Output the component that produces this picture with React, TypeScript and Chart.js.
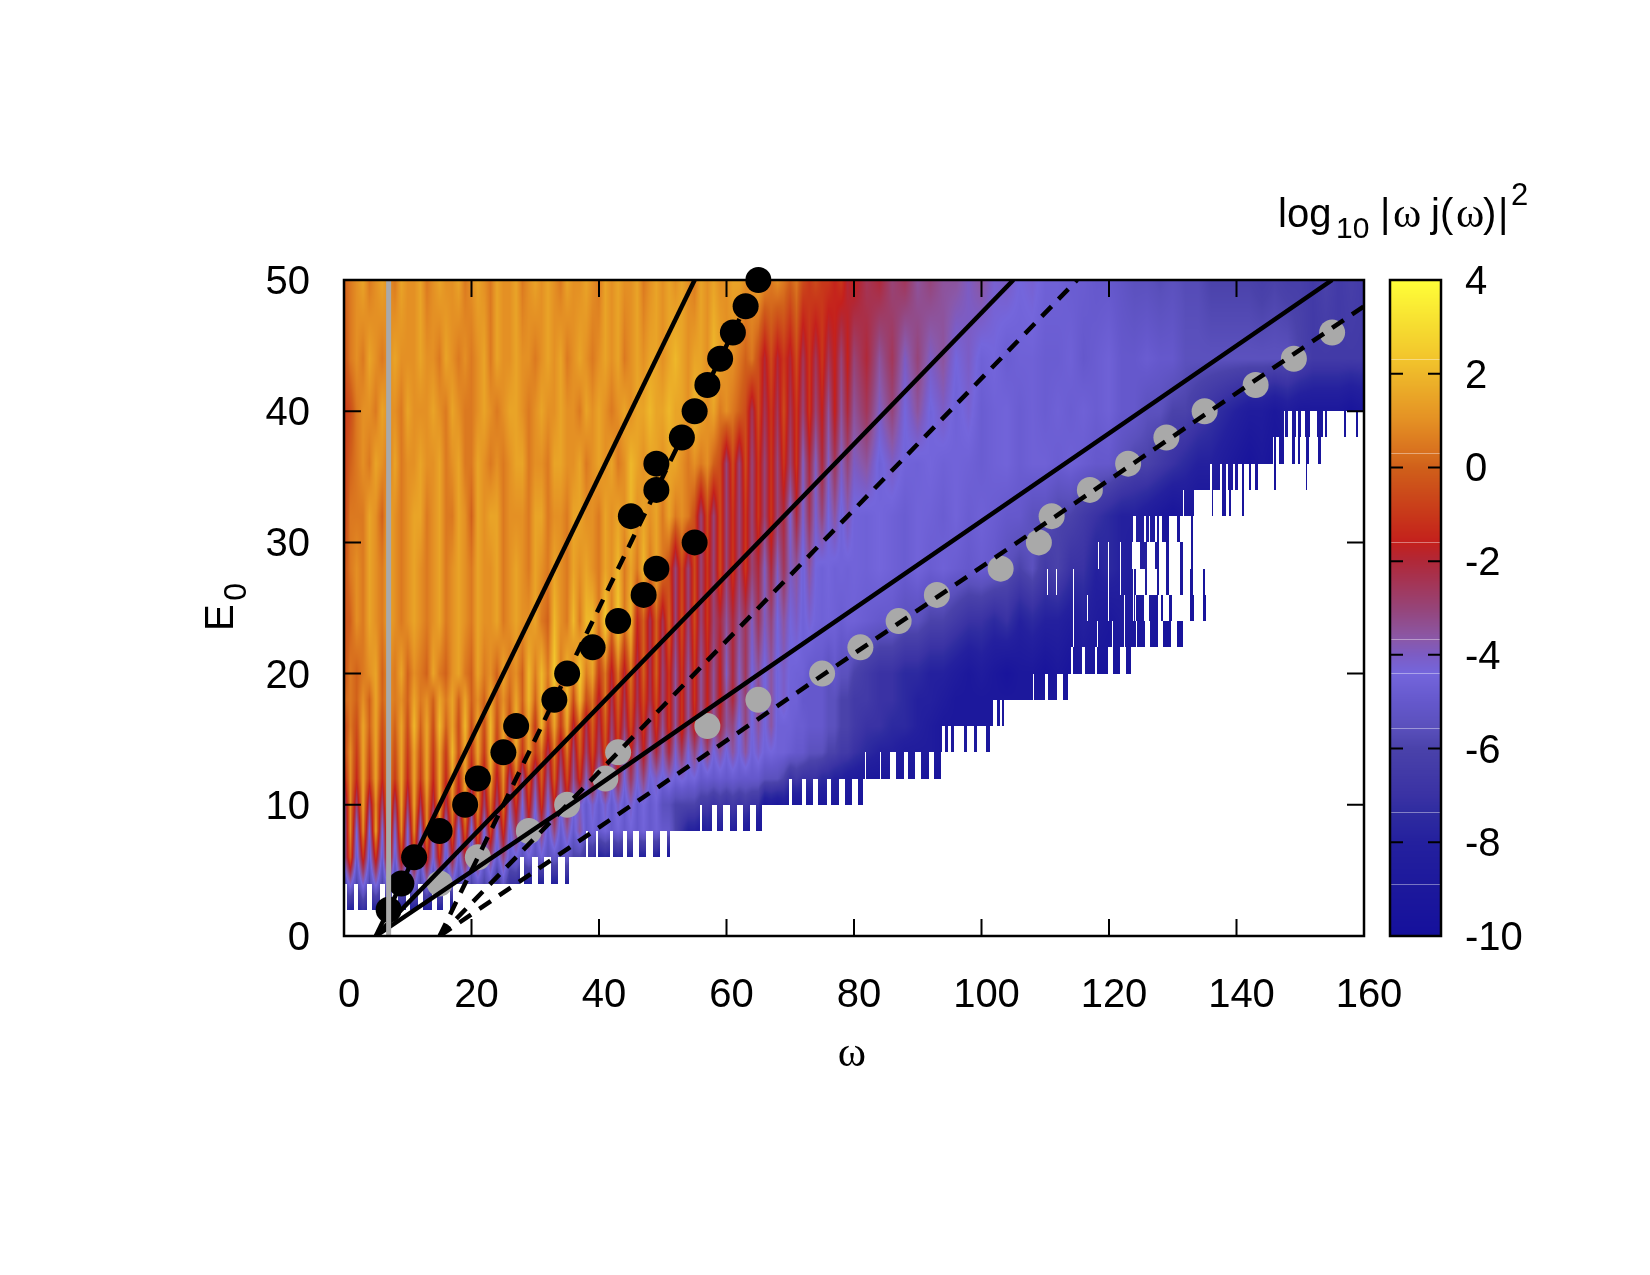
import React, { useEffect, useRef } from 'react';
import { Chart, registerables } from 'chart.js';

Chart.register(...registerables);

const SANS = '"Liberation Sans", Arial, sans-serif';
const SERIF = '"Liberation Serif", serif';

// E0, omega of the harmonic cutoff markers
const blackOmega = [7, 9, 11, 15, 19, 21, 25, 27, 33, 35, 39, 43, 47, 49, 55, 45, 49, 49, 53, 55, 57, 59, 61, 63, 65];
const blackE0 = [2, 4, 6, 8, 10, 12, 14, 16, 18, 20, 22, 24, 26, 28, 30, 32, 34, 36, 38, 40, 42, 44, 46, 48, 50];
const grayOmega = [15, 21, 29, 35, 41, 43, 57, 65, 75, 81, 87, 93, 103, 109, 111, 117, 123, 129, 135, 143, 149, 155];
const grayE0 = [4, 6, 8, 10, 12, 14, 16, 18, 20, 22, 24, 26, 28, 30, 32, 34, 36, 38, 40, 42, 44, 46];

const solid1 = { w: [5, 55], e: [0, 50] };
const solid2 = { w: [5, 105], e: [0, 50] };
const solid3 = { w: [5, 35, 63.7, 155], e: [0, 9.85, 19.5, 50] };
const dashed1 = { w: [15, 65], e: [0, 50] };
const dashed2 = { w: [15, 115], e: [0, 50] };
const dashed3 = { w: [15, 160], e: [0, 48] };
const grayLine = { w: [7, 7], e: [0, 50] };

// heat map values, log10 scale: one row per E0, omega = 0,1,..,80 then 82,84,..,160. Rows stop where the data stops.
const row02 = [-7, -8, -8, -7, -8, -8, -8, -7, -8, -8, -8, -8, -8, -8, -8, -8, -8, -9, -9];
const row04 = [-6, -4, -6, -4, -6, -4, -6, -4, -6, -4, -6, -4, -6, -4, -6, -4, -6, -4.5, -6, -4.5, -6, -5, -6, -5, -7, -5, -7, -7, -8, -8, -8, -8, -8, -8, -8, -8, -9];
const row06 = [-4, 0, -5, -1, -5, -1, -5, 0, -5, -1,
  -4.5, -1, -5, -1, -4.5, -1, -5, -2, -5, -2,
  -5, -2, -5, -3, -5, -3, -5, -4.5, -5.5, -4.5,
  -5.5, -4.5, -5.5, -5, -5.5, -5, -6, -6, -7, -7,
  -8, -7.5, -8, -7.5, -8, -8, -8, -8, -8, -8,
  -9, -9, -9];
const row08 = [-4.5, 1, -4.5, 1, -4.4, 1.5, -4.5, 1, -4.4, 1,
  -4.5, 1, -4.4, 1, -4.5, .5, -4.6, 0, -4.6, 0,
  -4.6, 0, -4.6, -.5, -4.6, -1, -4.8, -2.5, -4.8, -2.5,
  -5, -3, -5, -3, -5, -3.5, -5, -3.5, -5, -4.5,
  -5, -4.5, -5, -4.5, -5, -4.5, -5, -4.5, -5, -4.6,
  -5, -5, -6, -7, -8, -8, -8.5, -8, -8.5, -8,
  -8.5, -8, -8.5, -8.5, -9, -9, -9];
const row10 = [-4, 1, -3, 1.5, -3, 1, -3, 1.5, -3, 1.5,
  -3, 1.5, -2.5, 1, -2.5, 1.5, -2.5, 1, -2.5, 1.5,
  -3, 1, -3, .5, -3, .5, -4, -1, -4.4, -1,
  -4.4, -1, -4.4, -1.5, -4.4, -2, -4.4, -4, -5, -4,
  -5, -4, -5, -4, -5, -4, -5, -4.4, -5, -4.5,
  -5.5, -5.5, -6, -6, -6, -6, -6.5, -6.5, -7, -6.5,
  -7, -6.5, -7, -6.5, -7, -7, -9, -8.5, -9, -8.5,
  -9, -9, -9, -9, -9, -9, -9, -9, -9, -9, -9,
  -9.5];
const row12 = [-2, 1, -1.5, 1.5, -1, 1.5, -1.5, 1, -1, 1.5,
  -1.5, 1.5, -1, 1.5, -1.5, 1.5, -1.5, 1.5, -1.5, 1.5,
  -2, 1, -2, 1.5, -2, 1, -3, .5, -3.5, 0,
  -3.5, 0, -3.5, 0, -3.5, -.5, -3.5, -1, -4, -1.5,
  -4.4, -1.5, -4.4, -2, -4.4, -2.5, -4.4, -3, -4.6, -4,
  -4.6, -4, -4.6, -4.2, -4.6, -4.4, -5, -4.8, -5, -4.8,
  -5, -4.8, -5, -5, -5, -5, -5.5, -5.5, -5.5, -6,
  -7, -6.5, -7, -7, -7, -7.5, -7.5, -8, -8, -8.5, -8.5,
  -9, -9, -9, -9, -9, -9.5, -9.5];
const row14 = [-1, 1, -1, 1.5, -.5, 1.5, -1, 1, -.5, 1.5,
  -1, 1.5, -.5, 1.5, -1, 1.5, -1, 2, -.5, 1.5,
  -1, 1.5, -1, 2, -1, 1.5, -1, 1.5, -1, 1.5,
  -1, .5, -2.5, .5, -2.5, .5, -3, 0, -3, -.5,
  -3, -.5, -3.5, -1, -4, -1.5, -4, -1.5, -4, -2,
  -4, -2, -4.2, -2.5, -4.4, -3, -4.5, -3, -4.5, -3.5,
  -4.5, -3.5, -4.5, -3.5, -4.6, -4, -4.6, -4.4, -4.6, -4.6,
  -4.8, -5, -5, -5.5, -5.5, -5.5, -6, -6, -6.5, -6.5, -7,
  -7.5, -8, -8, -8.5, -8.5, -8.5, -9, -9, -9, -9, -9.5];
const row16 = [-1, .5, -.5, 1.5, 0, 1.5, -.5, 1, 0, 1.5,
  -.5, 2, 0, 1.5, -.5, 2, 0, 1.5, -.5, 2,
  -.5, 1.5, -.5, 2, -.5, 1.5, -.5, 2, -.5, 1.5,
  -1, 2, -1, 1.5, -1, 1.5, -2, .5, -2.5, 0,
  -2.5, 0, -3, -.5, -3, -.5, -3, -1, -3.5, -1,
  -3.5, -1, -3.5, -1, -3.5, -1.5, -3.5, -1.5, -3.5, -2,
  -3.5, -3, -4.5, -3, -4.5, -3.5, -4.5, -3.5, -4.6, -4.6,
  -4.6, -4.8, -4.8, -5, -5, -5, -5.5, -5.5, -6, -6, -6.5,
  -7, -7, -7.5, -7.5, -8, -8.5, -9, -9, -9, -9, -9, -9];
const row18 = [0, .5, 0, 1, 0, 1.5, 0, 1, .5, 1,
  0, 1.5, .5, 1, 0, 1.5, .5, 1.5, 0, 1.5,
  0, 1, 0, 1.5, 0, 1, 0, 1.5, 0, 2,
  0, 2, 0, 2, -.5, 2, -.5, 2, -.5, .5,
  -2, .5, -2.5, 0, -2.5, 0, -2.5, -.5, -2.5, -.5,
  -3, -1, -3.5, -1, -3.5, -1, -3.5, -1.5, -3.5, -1.5,
  -3.5, -2, -4, -3, -4.5, -3, -4.5, -3.5, -4.5, -4,
  -4.6, -4.6, -5, -5, -5, -5, -5.5, -5.5, -6, -6, -6.5,
  -6.5, -7, -7, -7.5, -8, -8, -8.5, -9, -9, -9, -9, -9, -9, -9, -9, -9, -9.5];
const row20 = [-.5, .5, 0, .5, 1, 1.5, 0, 1, .5, 1.5,
  0, 1, .5, 0, 1.5, .5, 0, 1, 1.5, .5,
  0, 1.5, .5, 1, 0, 1.5, .5, 1, 0, 2,
  .5, 2, .5, 2.5, .5, 2, .5, 2.5, .5, 1.5,
  -1, .5, -2, .5, -2, .5, -2.5, 0, -2.5, 0,
  -3, -1, -3.5, -1, -3.5, -1, -3.5, -1.5, -3.5, -1.5,
  -4, -2, -4, -2.5, -4.4, -3.5, -4.5, -3.5, -4.5, -4,
  -4.5, -4.6, -4.6, -5, -5, -5, -5.5, -5, -5.5, -5.5, -6,
  -6.5, -7, -7, -7.5, -7.5, -8, -8, -8.5, -9, -8.5, -9, -9.5, -9, -9, -9.5, -9, -9.5, -9, -9.5, -9.5, -9.5, -9.5];
const row24 = [-.5, 0, 1, .5, 1.5, 1, .5, 1.5, 1, .5,
  1, 1.5, 1, .5, 1, 1.5, .5, 1, 1.5, 1,
  .5, 1.5, 1, 1, 1.5, .5, 1, 1.5, 1, 1,
  1.5, .5, 0, 2, 1, .5, 2, .5, 2, 2,
  .5, 2.5, .5, 2.5, .5, 2, -1.5, 0, -2.5, 0,
  -2.5, 0, -3, -.5, -3, -.5, -3, -1, -3, -2,
  -3.5, -2, -3.5, -2.5, -4, -2.5, -4, -3, -4.4, -3.5,
  -4.4, -4, -4.6, -4.2, -4.5, -4.6, -4.5, -4.6, -4.8, -4.6, -4.6,
  -4.8, -5, -5, -5.5, -5.5, -6, -6, -6.5, -7, -7, -7.5, -7, -8, -7.5, -8, -8, -8.5, -8, -8.5, -9, -8.5, -9, -9, -9.5, -9.5, -9.5, -9.5, -9.5];
const row28 = [-.5, .5, 1, .5, 1.5, 1, .5, 1.5, 1, .5,
  1, 1.5, 1, .5, 1, 1.5, .5, 1, 1.5, 1,
  .5, 1.5, 1, 1, 1.5, .5, 1, 1.5, 1, .5,
  1.5, 1, .5, 1.5, 1, .5, 1.5, 1, 1.5, 1,
  .5, 1.5, 1, 2, .5, 1.5, .5, 2, .5, 1.5,
  .5, -.5, -3, -.5, -3, -.5, -3, -1, -3, -.5,
  -3, -1, -3, -1, -3, -2, -4, -2, -4, -2.5,
  -4, -3.5, -4.6, -3.5, -4.4, -4.6, -4.4, -4.6, -4.5, -4.6, -4.5,
  -4.6, -4.4, -4.6, -4.8, -4.5, -4.8, -4.6, -4.8, -5, -4.8, -5, -5.5, -6, -5.5, -6.5, -6, -7, -7, -8, -7.5, -8, -8.5, -8, -9, -9, -9, -9.5, -9.5];
const row32 = [-1, .5, .5, .5, 1.5, 1, 0, 1.5, 1, .5,
  1, 1.5, 1.5, .5, 1, 1.5, .5, .5, 1.5, 1,
  0, 1.5, 1, 1.5, 1.5, .5, 1, 1, 1, .5,
  1.5, 1.5, .5, 1, 1, .5, 1.5, 1.5, 1, 1,
  .5, 1.5, 1, 1.5, 1, 2, 1, 1.5, 1, 1.5,
  .5, 1.5, .5, 1, .5, -.5, -3, -.5, -3, -.5,
  -3, -1, -3, -1, -3, -1, -3, -1, -3, -2,
  -4.2, -2, -4.2, -2.5, -4.2, -3, -4.4, -3.5, -4.6, -3.8, -4.5,
  -4.6, -4.4, -4.6, -4.8, -4.5, -4.6, -4.8, -4.5, -4.8, -4.6, -4.8, -5, -5, -5.5, -5.5, -6, -6, -6.5, -7, -7.5, -8, -8, -8.5, -9, -9.5, -9, -9.5, -9.5, -9.5, -9.5, -9.5];
const row36 = [-1, 0, .5, 1, .5, 1.5, 1, .5, 1.5, .5,
  1, 1, 1.5, 1, 1, 1.5, .5, 1, 1.5, .5,
  .5, 1.5, 1, .5, 1, .5, 1, 1.5, 1.5, .5,
  1, 1, .5, 1.5, 1.5, 1, 1, 1.5, .5, 1,
  1.5, 1, 1.5, .5, 1, 2, 1.5, 1, 1.5, 1.5,
  1, 1.5, 1.5, 1, .5, 1, .5, 1, 0, -.5,
  -3, -.5, -3, -.5, -3, -1, -3, -1, -3, -1,
  -3, -1, -4, -2, -4, -2, -4, -2.5, -4, -3, -4,
  -3.5, -4.6, -4, -4.5, -4.6, -4.4, -4.6, -4.5, -4.6, -4.8, -4.6, -4.5, -4.8, -4.6, -4.6, -4.8, -4.6, -4.8, -5, -5, -5.5, -6, -6, -6.5, -7, -7.5, -8, -8, -8.5, -9, -9.5, -9, -9.5, -9.5, -9.5, -9.5, -9.5];
const row40 = [-1, -.5, .5, 1, 1, .5, 1.5, 1, 1, .5,
  1.5, 1, 1, 1, 1.5, 1, .5, 1.5, 1, .5,
  .5, 1, 1.5, 1, .5, 1, 1.5, 1.5, 1, .5,
  1, 1.5, 1, 1, 1.5, 1, 1, .5, 1.5, 1,
  1.5, 1, .5, 1, 1.5, 1, 1.5, 1.5, 2, 1.5,
  1.5, 2, 1.5, 1.5, 1, 2, 1.5, 1, 1.5, .5,
  1, .5, 0, -.5, -2.5, -.5, -2.5, -1, -2.5, -.5,
  -2.5, -1, -3, -1, -3, -1.5, -3.5, -1.5, -3.5, -2, -3.5,
  -2.5, -4, -3, -4.4, -3.5, -4.5, -4, -4.6, -4.2, -4.8, -4.6, -4.5, -4.8, -4.6, -4.8, -4.6, -4.8, -4.6, -4.8, -4.6, -5, -5, -5.5, -5.5, -6, -6, -6.5, -7, -7.5, -8, -8.5, -8.5, -9, -8.5, -9, -9, -9, -9, -9.5, -9];
const row44 = [-.5, .5, 1, .5, 1.5, 1, .5, 1, 1.5, 1,
  1, 1, 1.5, 1, 1, .5, 1.5, 1, .5, 1,
  .5, 1, 1.5, .5, 1.5, 1, 1, 1.5, 1, 1,
  .5, 1, 1.5, 1, 1.5, .5, 1, 1.5, 1, .5,
  1, 1.5, 1, 1.5, .5, 1, 1.5, 1, 1.5, 1.5,
  1, 1.5, 2, 1.5, 1, 1.5, 1.5, 1, 2, 1.5,
  1, 1, .5, 0, .5, -.5, -2, -.5, -2, -1,
  -2, -.5, -2.5, -1, -2.5, -1, -2.5, -1.5, -3, -1.5, -3,
  -2, -3.5, -2.5, -4, -3, -4, -3.5, -4.4, -4, -4.6, -4.4, -4.8, -4.6, -4.6, -4.8, -4.8, -4.6, -5, -4.8, -4.6, -5, -5, -4.8, -5, -5, -5.5, -5.5, -5.5, -5.5, -5.5, -5.5, -5.5, -5.5, -5.5, -6, -6.5, -6.5, -6.5, -6.5, -6.5];
const row50 = [0, .5, 1, 1.5, .5, 1, 1.5, 1, .5, 1.5,
  1, 1, 1.5, .5, 1, 1.5, 1, 1, 1.5, .5,
  1, 1.5, 1, .5, 1.5, 1, 1, 1.5, .5, 1,
  1.5, 1, 1.5, 1, .5, 1.5, 1, 1, 1.5, 1,
  .5, 1.5, 1, 1.5, 1, 1, 1.5, .5, 1, 1.5,
  1, 1.5, 1, 1.5, 1, .5, 1.5, 1, 1.5, 1,
  1, 1.5, 1.5, 1, 1, 1.5, 1, .5, 1, .5,
  0, .5, -.5, -1, -.5, -1, -1, -1.5, -1, -2, -1.5,
  -2.5, -2, -3, -2.5, -3.5, -3, -3.5, -3.5, -4, -3.5, -4.2, -4, -4.4, -4.2, -4.6, -4.6, -4.8, -4.8, -5, -5, -5.2, -5.5, -5.5, -5.7, -5.5, -5.7, -5.7, -6, -6, -6, -6, -6.2, -6, -6.2, -6.2, -6.5, -6, -6.5, -6.2, -6.5];

const heatE0 = [2, 4, 6, 8, 10, 12, 14, 16, 18, 20, 24, 28, 32, 36, 40, 44, 50];
const heatRows = [row02, row04, row06, row08, row10, row12, row14, row16, row18, row20, row24, row28, row32, row36, row40, row44, row50];

// where each 2-unit band of E0 (named by its lower edge) stops being solid, and the teeth past that
const bandLow = [2, 4, 6, 8, 10, 12, 14, 16, 18, 20, 22, 24, 26, 28, 30, 32, 34, 36, 38];
const bandSolidEnd = [0, 26, 38, 55.9, 69.8, 81.7, 93.8, 101.8, 108, 114.1, 124.3, 124.1, 123.8, 123.7, 123.7, 133.4, 135.8, 145.8, 147.5];
const bandTeeth = [
  [[.5, 1.5], [2.2, 3.6], [4.4, 5.6], [6.4, 7.6], [8.5, 9.7], [10.4, 11.6], [12.4, 13.8], [14.6, 15.5], [16.6, 17.1]],
  [[26.1, 27.6], [28.2, 29.5], [30.4, 31.4], [32.5, 33.5], [34.6, 35.3]],
  [[38.2, 39.5], [39.8, 41.8], [42.2, 43.7], [44.4, 45.4], [46.3, 47.3], [48.4, 49.6], [50.7, 51.2]],
  [[56.1, 57.8], [58.5, 59.5], [60.5, 61.7], [62.6, 63.7], [64.6, 65.6]],
  [[70.2, 71.8], [72.5, 73.6], [74.4, 75.7], [76.4, 77.7], [78.6, 79.7], [80.7, 81.4]],
  [[81.9, 84.1], [84.3, 85.7], [86.6, 87.8], [88.5, 89.6], [90.5, 91.7], [92.6, 93.6]],
  [[94.3, 94.8], [95.2, 95.7], [97.3, 97.8], [98.8, 99.3], [100.7, 101.3]],
  [[102.4, 102.9], [103.2, 103.6]],
  [[108.2, 110], [110.4, 111.8], [112.8, 113.6]],
  [[114.4, 115.8], [116.2, 117.8], [118.1, 119.9], [120.6, 121.7], [122.6, 123.4]],
  [[124.4, 125.6], [126.4, 127.7], [128.4, 129.7], [130.6, 131.6]],
  [[124.2, 125.5], [126.3, 127.7], [128.1, 128.5], [129.4, 129.9], [132.7, 133.4], [134.8, 135.2]],
  [[123.9, 124.2], [125.7, 126], [127.5, 127.9], [129, 129.4], [131.2, 131.6], [132.7, 133.2], [134.8, 135.1]],
  [[124.9, 125.9], [127.2, 127.9], [129, 129.4], [131.2, 131.6], [132.8, 133.1]],
  [[124.2, 125.5], [125.8, 126.3], [126.5, 127.2], [127.5, 127.9], [128.3, 129.4], [130.7, 131.2], [132.8, 133.1]],
  [[136.1, 136.3], [137.8, 138.3], [138.9, 139.1], [140.9, 141.2]],
  [[136.1, 137.4], [137.8, 138.4], [138.7, 139.4], [139.7, 140.3], [140.9, 141.2], [141.9, 142.2], [142.9, 143.4], [145.9, 146.2], [150.9, 151.1]],
  [[145.9, 146.2], [146.7, 147.4], [148.7, 149.2], [149.7, 150], [150.9, 151.3], [152.8, 153.3]],
  [[147.6, 148], [148.7, 149.4], [149.7, 150.1], [150.7, 151.5], [152.6, 153.5], [153.9, 154.2], [156.9, 157.1], [158.8, 159.1]],
];
// one-pixel white slits inside the solid part: [band low edge, omega]
const hairGaps = [
  [22, 114.4], [22, 118.1], [22, 120.4], [22, 122.3],
  [24, 114.4], [24, 116.6], [24, 119.9], [24, 122.3], [24, 123.8],
  [26, 110.3], [26, 111.7], [26, 114.4], [26, 119.8], [26, 121.7], [26, 123.8],
  [28, 118.2], [28, 119.9], [28, 121.7], [28, 123.6], [32, 131.6],
];

// palette
const paletteValues = [-10, -9, -8, -7.35, -7, -6, -5.56, -5, -4.39, -4, -3.66, -3, -2, -1.59, -1, 0, .31, 1, 2, 2.31, 3, 4];
const paletteColors = ['#15109c', '#1c189c', '#24209e', '#2f2ca0', '#3a32a4', '#4a42aa', '#5a50bc', '#6558cc', '#7466dc', '#7c5cc4', '#8a58a8', '#964478', '#b02838', '#c4201c', '#c8381a', '#d0601a', '#d8701e', '#e49024', '#eeb82a', '#f2c42c', '#f6dc30', '#ffff38'];
const colorbarSeams = [2.31, .31, -1.59, -3.66, -4.39, -5.56, -7.35, -8.89];

const hexRgb = (h: string) => [parseInt(h.slice(1, 3), 16), parseInt(h.slice(3, 5), 16), parseInt(h.slice(5, 7), 16)];
const paletteRgb = paletteColors.map(hexRgb);

function colorOf(v: number) {
  if (v <= paletteValues[0]) return paletteRgb[0];
  for (let i = 1; i < paletteValues.length; i++) {
    if (v <= paletteValues[i]) {
      const f = (v - paletteValues[i - 1]) / (paletteValues[i] - paletteValues[i - 1]);
      const a = paletteRgb[i - 1];
      const b = paletteRgb[i];
      return [a[0] + (b[0] - a[0]) * f, a[1] + (b[1] - a[1]) * f, a[2] + (b[2] - a[2]) * f];
    }
  }
  return paletteRgb[paletteRgb.length - 1];
}
const lut = Array.from({ length: 1401 }, (_, i) => colorOf(-10 + i / 100));

// omega -> position in a row (1 unit steps up to 80, 2 unit steps after)
const colPos = (w: number) => (w <= 80 ? w : 80 + (w - 80) / 2);

const heatPlugin = {
  id: 'heat',
  beforeDatasetsDraw(chart: any) {
    const { ctx, chartArea, scales } = chart;
    const left = Math.round(chartArea.left);
    const top = Math.round(chartArea.top);
    const w = Math.round(chartArea.right) - left;
    const h = Math.round(chartArea.bottom) - top;
    const off = document.createElement('canvas');
    off.width = w;
    off.height = h;
    const octx = off.getContext('2d')!;
    const img = octx.createImageData(w, h);

    const omegas = new Float64Array(w);
    for (let i = 0; i < w; i++) omegas[i] = scales.x.getValueForPixel(left + i + 0.5);

    // which columns are filled for each band
    const masks = bandLow.map((lo, b) => {
      const m = new Uint8Array(w);
      for (let i = 0; i < w; i++) {
        const o = omegas[i];
        m[i] = o <= bandSolidEnd[b] || bandTeeth[b].some((t) => o >= t[0] && o <= t[1]) ? 1 : 0;
      }
      hairGaps.forEach(([l, o]) => {
        if (l === lo) m[Math.round(scales.x.getPixelForValue(o)) - left] = 0;
      });
      return m;
    });

    for (let py = 0; py < h; py++) {
      const e = scales.y.getValueForPixel(top + py + 0.5);
      if (e < 2) continue;
      let r = 0;
      while (r < heatE0.length - 2 && e >= heatE0[r + 1]) r++;
      const fr = Math.min(1, (e - heatE0[r]) / (heatE0[r + 1] - heatE0[r]));
      const rowA = heatRows[r];
      const rowB = heatRows[r + 1];
      const band = Math.floor(e / 2) - 1;
      const mask = band < masks.length ? masks[band] : null;
      for (let px = 0; px < w; px++) {
        if (mask && !mask[px]) continue;
        const c = colPos(omegas[px]);
        const i = Math.min(Math.floor(c), 119);
        const f = c - i;
        const a0 = rowA[Math.min(i, rowA.length - 1)];
        const a1 = rowA[Math.min(i + 1, rowA.length - 1)];
        const b0 = rowB[Math.min(i, rowB.length - 1)];
        const b1 = rowB[Math.min(i + 1, rowB.length - 1)];
        const v = (a0 + (a1 - a0) * f) * (1 - fr) + (b0 + (b1 - b0) * f) * fr;
        const rgb = lut[Math.max(0, Math.min(1400, Math.round((v + 10) * 100)))];
        const k = (py * w + px) * 4;
        img.data[k] = rgb[0];
        img.data[k + 1] = rgb[1];
        img.data[k + 2] = rgb[2];
        img.data[k + 3] = 255;
      }
    }
    octx.putImageData(img, 0, 0);
    ctx.drawImage(off, left, top);
  },
};

const framePlugin = {
  id: 'frame',
  afterDatasetsDraw(chart: any) {
    const { ctx, chartArea: a, scales } = chart;
    ctx.save();
    ctx.strokeStyle = '#000';
    ctx.fillStyle = '#000';
    ctx.lineWidth = 2;
    ctx.beginPath();
    scales.x.ticks.forEach((t: any) => {
      const x = scales.x.getPixelForValue(t.value);
      ctx.moveTo(x, a.bottom);
      ctx.lineTo(x, a.bottom - 17);
      ctx.moveTo(x, a.top);
      ctx.lineTo(x, a.top + 17);
    });
    scales.y.ticks.forEach((t: any) => {
      const y = scales.y.getPixelForValue(t.value);
      ctx.moveTo(a.left, y);
      ctx.lineTo(a.left + 17, y);
      ctx.moveTo(a.right, y);
      ctx.lineTo(a.right - 17, y);
    });
    ctx.stroke();
    ctx.lineWidth = 2.5;
    ctx.strokeRect(a.left, a.top, a.right - a.left, a.bottom - a.top);

    // colour bar, drawn off the same palette through its own scale
    const cb = scales.cb;
    const bx0 = 1390;
    const bx1 = 1441;
    for (let y = Math.round(cb.top); y < Math.round(cb.bottom); y++) {
      const v = cb.getValueForPixel(y + 0.5);
      const rgb = lut[Math.max(0, Math.min(1400, Math.round((v + 10) * 100)))];
      ctx.fillStyle = `rgb(${rgb[0]},${rgb[1]},${rgb[2]})`;
      ctx.fillRect(bx0, y, bx1 - bx0, 1);
    }
    ctx.fillStyle = 'rgba(255,255,255,0.4)';
    colorbarSeams.forEach((v) => ctx.fillRect(bx0, Math.round(cb.getPixelForValue(v)), bx1 - bx0, 1));
    ctx.beginPath();
    ctx.lineWidth = 2;
    cb.ticks.forEach((t: any) => {
      const y = cb.getPixelForValue(t.value);
      ctx.moveTo(bx0, y);
      ctx.lineTo(bx0 + 13, y);
      ctx.moveTo(bx1, y);
      ctx.lineTo(bx1 - 13, y);
    });
    ctx.stroke();
    ctx.lineWidth = 2.5;
    ctx.strokeRect(bx0, cb.top, bx1 - bx0, cb.bottom - cb.top);

    // axis titles
    ctx.fillStyle = '#000';
    ctx.textBaseline = 'alphabetic';
    ctx.textAlign = 'center';
    ctx.font = `43px ${SERIF}`;
    ctx.fillText('ω', 852, 1066);
    ctx.textAlign = 'left';

    ctx.save();
    ctx.translate(233, 631);
    ctx.rotate(-Math.PI / 2);
    ctx.font = `40px ${SANS}`;
    ctx.fillText('E', 0, 0);
    ctx.font = `32px ${SANS}`;
    ctx.fillText('0', ctx.measureText('E').width + 9, 13);
    ctx.restore();

    const put = (text: string, x: number, y: number, font: string) => {
      ctx.font = font;
      ctx.fillText(text, x, y);
    };
    put('log', 1278, 227, `40px ${SANS}`);
    put('10', 1336, 238, `30px ${SANS}`);
    put('|', 1380, 227, `40px ${SANS}`);
    put('ω', 1393, 227, `43px ${SERIF}`);
    put('j(', 1431, 227, `40px ${SANS}`);
    put('ω', 1456, 227, `43px ${SERIF}`);
    put(')', 1483, 227, `40px ${SANS}`);
    put('|', 1498, 227, `40px ${SANS}`);
    put('2', 1511, 205, `31px ${SANS}`);
    ctx.restore();
  },
};

const xy = (w: number[], e: number[]) => w.map((x, i) => ({ x, y: e[i] }));

const lineSet = (s: { w: number[]; e: number[] }, dash: number[], color = '#000', width = 4.5, order = 3) => ({
  type: 'line' as const,
  data: xy(s.w, s.e),
  borderColor: color,
  borderWidth: width,
  borderDash: dash,
  pointRadius: 0,
  tension: 0,
  order,
});

export default function App() {
  const canvasRef = useRef<HTMLCanvasElement>(null);
  const chartRef = useRef<Chart | null>(null);

  useEffect(() => {
    if (!canvasRef.current) return;
    if (chartRef.current) chartRef.current.destroy();
    const tickFont = { family: SANS, size: 40 };

    chartRef.current = new Chart(canvasRef.current, {
      type: 'scatter',
      data: {
        datasets: [
          { type: 'scatter', data: xy(grayOmega, grayE0), backgroundColor: '#a9a9a9', borderWidth: 0, pointRadius: 13, clip: false, order: 5 },
          { type: 'scatter', data: xy(blackOmega, blackE0), backgroundColor: '#000', borderWidth: 0, pointRadius: 13, clip: false, order: 4 },
          lineSet(solid1, []),
          lineSet(solid2, []),
          lineSet(solid3, []),
          lineSet(dashed1, [14, 10]),
          lineSet(dashed2, [14, 10]),
          lineSet(dashed3, [14, 10]),
          lineSet(grayLine, [], '#a9a9a9', 5, 1),
        ] as any,
      },
      options: {
        responsive: false,
        animation: false,
        devicePixelRatio: 1,
        layout: { padding: { top: 280, left: 0, right: 0, bottom: 0 } },
        plugins: { legend: { display: false }, tooltip: { enabled: false } },
        scales: {
          x: {
            type: 'linear',
            min: 0,
            max: 160,
            afterFit: (s: any) => { s.height = 339; },
            grid: { display: false, drawTicks: false },
            border: { display: false },
            ticks: { stepSize: 20, color: '#000', font: tickFont, padding: 36, labelOffset: 5, maxRotation: 0, autoSkip: false },
          },
          y: {
            type: 'linear',
            min: 0,
            max: 50,
            afterFit: (s: any) => { s.width = 344; },
            grid: { display: false, drawTicks: false },
            border: { display: false },
            ticks: { stepSize: 10, color: '#000', font: tickFont, padding: 34, labelOffset: 3 },
          },
          cb: {
            type: 'linear',
            position: 'right',
            min: -10,
            max: 4,
            afterFit: (s: any) => { s.width = 286; },
            grid: { display: false, drawTicks: false },
            border: { display: false },
            ticks: { stepSize: 2, color: '#000', font: tickFont, padding: 101, labelOffset: 3 },
          },
        },
      },
      plugins: [heatPlugin, framePlugin],
    });

    return () => { if (chartRef.current) chartRef.current.destroy(); };
  }, []);

  return (
    <canvas
      ref={canvasRef}
      width={1650}
      height={1275}
      style={{ position: 'absolute', left: 0, top: 0, width: 1650, height: 1275, display: 'block' }}
    />
  );
}
